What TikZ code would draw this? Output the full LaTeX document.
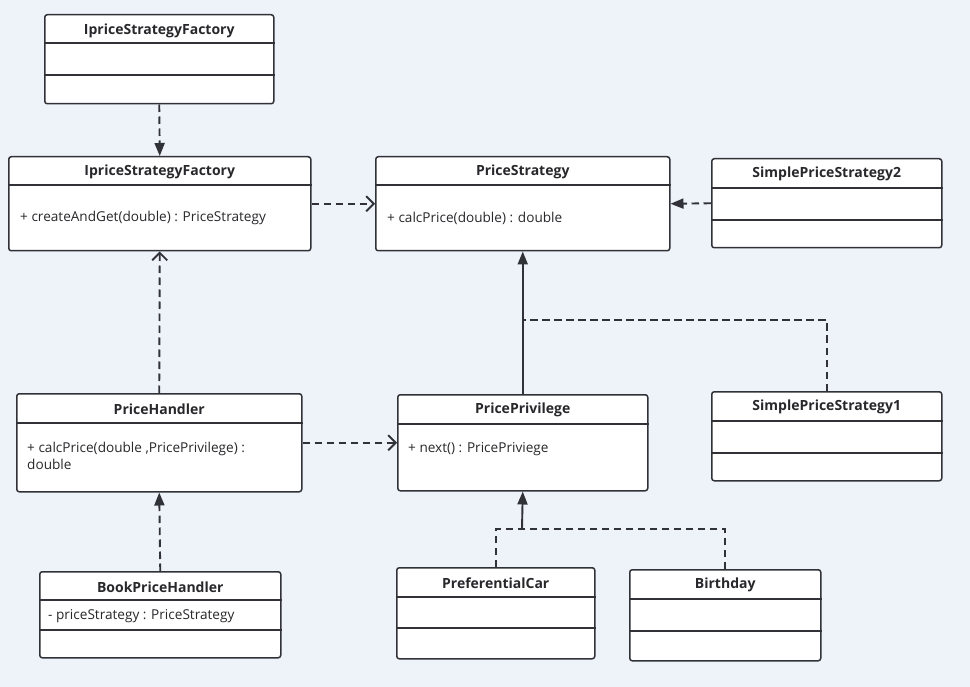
\documentclass[tikz,border=0pt]{standalone}
\usepackage{fontspec}
\setmainfont{Open Sans}
\usetikzlibrary{arrows.meta,calc}
\definecolor{bgc}{RGB}{238,242,249}
\definecolor{linec}{RGB}{48,50,56}
\definecolor{textc}{RGB}{40,40,44}
\tikzset{
  cls/.style={draw=linec, fill=white, line width=1.5pt, rounded corners=2.5pt, anchor=north west, inner sep=0pt},
  ttl/.style={font=\bfseries\fontsize{14}{16}\selectfont, text=textc, inner sep=0pt},
  mem/.style={font=\fontsize{13.6}{16.5}\selectfont, text=textc, anchor=west, align=left, inner sep=0pt},
  divl/.style={draw=linec, line width=1.5pt},
  conn/.style={draw=linec, line width=1.9pt},
  dsh/.style={dash pattern=on 7.5pt off 4.5pt},
  fullhead/.style={-{Triangle[length=13pt,width=10pt]}},
  openhead/.style={-{Straight Barb[length=7.5pt,width=15pt]}}
}
\begin{document}
\begin{tikzpicture}[x=1pt,y=-1pt]
\fill[bgc] (0,0) rectangle (970,687);
\useasboundingbox (0,0) rectangle (970,687);

% IpriceStrategyFactory (top)
\node[cls, minimum width=229pt, minimum height=89pt] (f1) at (44,14) {};
\node[ttl] (f1t) at ([yshift=-16.5pt]f1.north) {IpriceStrategyFactory};
\draw[divl] ([yshift=-29pt]f1.north west) -- ([yshift=-29pt]f1.north east);
\draw[divl] ([yshift=-61pt]f1.north west) -- ([yshift=-61pt]f1.north east);

% IpriceStrategyFactory (interface)
\node[cls, minimum width=302pt, minimum height=94pt] (f2) at (8,156) {};
\node[ttl] (f2t) at ([yshift=-16pt]f2.north) {IpriceStrategyFactory};
\draw[divl] ([yshift=-29pt]f2.north west) -- ([yshift=-29pt]f2.north east);
\node[mem] (f2m) at ([xshift=12pt,yshift=-62pt]f2.north west) {+ createAndGet(double) : PriceStrategy};

% PriceStrategy
\node[cls, minimum width=294pt, minimum height=94pt] (ps) at (375,156) {};
\node[ttl] (pst) at ([yshift=-16pt]ps.north) {PriceStrategy};
\draw[divl] ([yshift=-29pt]ps.north west) -- ([yshift=-29pt]ps.north east);
\node[mem] (psm) at ([xshift=12pt,yshift=-62pt]ps.north west) {+ calcPrice(double) : double};

% SimplePriceStrategy2
\node[cls, minimum width=230pt, minimum height=89pt] (sp2) at (711,158) {};
\node[ttl] (sp2t) at ([yshift=-16pt]sp2.north) {SimplePriceStrategy2};
\draw[divl] ([yshift=-30pt]sp2.north west) -- ([yshift=-30pt]sp2.north east);
\draw[divl] ([yshift=-62pt]sp2.north west) -- ([yshift=-62pt]sp2.north east);

% PriceHandler
\node[cls, minimum width=285pt, minimum height=98pt] (ph) at (16,393) {};
\node[ttl] (pht) at ([yshift=-16pt]ph.north) {PriceHandler};
\draw[divl] ([yshift=-30pt]ph.north west) -- ([yshift=-30pt]ph.north east);
\node[mem] (phm) at ([xshift=11pt,yshift=-63pt]ph.north west) {+ calcPrice(double ,PricePrivilege) :\\double};

% PricePrivilege
\node[cls, minimum width=250pt, minimum height=96pt] (pp) at (397,394) {};
\node[ttl] (ppt) at ([yshift=-16pt]pp.north) {PricePrivilege};
\draw[divl] ([yshift=-30pt]pp.north west) -- ([yshift=-30pt]pp.north east);
\node[mem] (ppm) at ([xshift=11pt,yshift=-55pt]pp.north west) {+ next() : PricePriviege};

% SimplePriceStrategy1
\node[cls, minimum width=230pt, minimum height=89pt] (sp1) at (711,391) {};
\node[ttl] (sp1t) at ([yshift=-16pt]sp1.north) {SimplePriceStrategy1};
\draw[divl] ([yshift=-30pt]sp1.north west) -- ([yshift=-30pt]sp1.north east);
\draw[divl] ([yshift=-62pt]sp1.north west) -- ([yshift=-62pt]sp1.north east);

% BookPriceHandler
\node[cls, minimum width=241pt, minimum height=86pt] (bph) at (39,571) {};
\node[ttl] (bpht) at ([yshift=-16pt]bph.north) {BookPriceHandler};
\draw[divl] ([yshift=-29pt]bph.north west) -- ([yshift=-29pt]bph.north east);
\draw[divl] ([yshift=-59pt]bph.north west) -- ([yshift=-59pt]bph.north east);
\node[mem] (bphm) at ([xshift=9pt,yshift=-45pt]bph.north west) {- priceStrategy : PriceStrategy};

% PreferentialCar
\node[cls, minimum width=198pt, minimum height=91pt] (pc) at (396,567) {};
\node[ttl] (pct) at ([yshift=-16pt]pc.north) {PreferentialCar};
\draw[divl] ([yshift=-30pt]pc.north west) -- ([yshift=-30pt]pc.north east);
\draw[divl] ([yshift=-61pt]pc.north west) -- ([yshift=-61pt]pc.north east);

% Birthday
\node[cls, minimum width=191pt, minimum height=91pt] (bd) at (629,569) {};
\node[ttl] (bdt) at ([yshift=-16pt]bd.north) {Birthday};
\draw[divl] ([yshift=-30pt]bd.north west) -- ([yshift=-30pt]bd.north east);
\draw[divl] ([yshift=-62pt]bd.north west) -- ([yshift=-62pt]bd.north east);

% junction points
\coordinate (j1) at (522,320);
\coordinate (j2) at (522,529);

% connectors
\draw[conn, dsh, fullhead] (f1.south) -- (f2.north);
\draw[conn, dsh, openhead] (f2.east) -- (ps.west);
\draw[conn, dsh, fullhead] (sp2.west) -- (ps.east);
\draw[conn, fullhead] (pp.north) -- (ps.south);
\draw[conn, dsh] (sp1.north) |- (j1);
\draw[conn, dsh, openhead] (ph.north) -- (f2.south);
\draw[conn, dsh, openhead] (ph.east) -- (pp.west);
\draw[conn, dsh, fullhead] (bph.north) -- (ph.south);
\draw[conn, fullhead] (j2) -- (pp.south);
\draw[conn, dsh] (pc.north) |- (j2);
\draw[conn, dsh] (bd.north) |- (j2);
\end{tikzpicture}
\end{document}
